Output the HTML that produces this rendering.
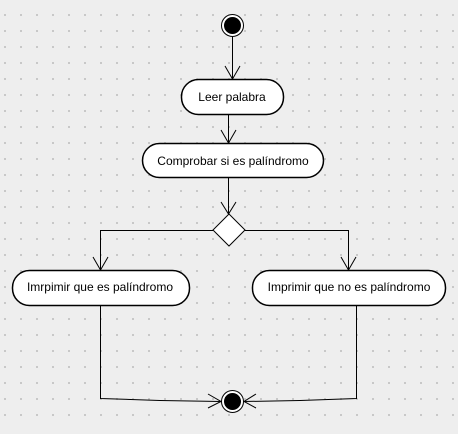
<!DOCTYPE html>
<html><head><style>
html,body{margin:0;padding:0;}
body{width:458px;height:429px;background:#eeeeee;overflow:hidden;}
text{font-family:"Liberation Sans",sans-serif;font-size:12px;fill:#000;}
</style></head><body>
<svg width="458" height="429" xmlns="http://www.w3.org/2000/svg">
<defs>
<pattern id="g" x="4" y="14" width="16" height="16" patternUnits="userSpaceOnUse">
<rect width="2" height="2" fill="#c8c8c8"/>
</pattern>
</defs>
<rect width="458" height="429" fill="#eeeeee"/>
<rect width="458" height="429" fill="url(#g)"/>
<g stroke="#000" stroke-width="1" fill="none">
<!-- start -->
<circle cx="232.5" cy="25.5" r="11" fill="#fff"/>
<circle cx="232.5" cy="25.5" r="8" fill="#000"/>
<line x1="232.5" y1="37" x2="232.5" y2="79"/>
<polyline points="225,66 232.5,79 240,66"/>
<!-- leer -->
<rect x="181.5" y="79.5" width="102" height="35" rx="17" fill="#fff" stroke-width="1.5"/>
<line x1="228.5" y1="114" x2="228.5" y2="142"/>
<polyline points="221,130 228.5,143 236,130"/>
<rect x="142.5" y="143.5" width="181" height="34" rx="17" fill="#fff" stroke-width="1.5"/>
<line x1="228.5" y1="177" x2="228.5" y2="214"/>
<polyline points="221,202 228.5,214 236,202"/>
<polygon points="229,214 245,230 229,246 213,230" fill="#fff"/>
<polyline points="213,230.5 100.5,230.5 100.5,270"/>
<polyline points="245,230.5 348.5,230.5 348.5,270"/>
<polyline points="93,257 100.5,270 108,257"/>
<polyline points="341,257 348.5,270 356,257"/>
<rect x="12.5" y="270.5" width="177" height="35" rx="17" fill="#fff" stroke-width="1.5"/>
<rect x="252.5" y="270.5" width="193" height="35" rx="17" fill="#fff" stroke-width="1.5"/>
<polyline points="100.5,305 100.5,398.5 160,400.5 221,401.5"/>
<polyline points="356.5,305 356.5,398.5 300,400.5 244,401.5"/>
<polyline points="208,394 221,401.5 208,408"/>
<polyline points="256,394 244,401.5 256,408"/>
<circle cx="232.5" cy="401.5" r="11" fill="#fff"/>
<circle cx="232.5" cy="401.5" r="8" fill="#000"/>
</g>
<text x="232" y="101" text-anchor="middle">Leer palabra</text>
<text x="233" y="165" text-anchor="middle">Comprobar si es palíndromo</text>
<text x="100" y="291" text-anchor="middle">Imrpimir que es palíndromo</text>
<text x="349" y="291" text-anchor="middle">Imprimir que no es palíndromo</text>
</svg>
</body></html>
